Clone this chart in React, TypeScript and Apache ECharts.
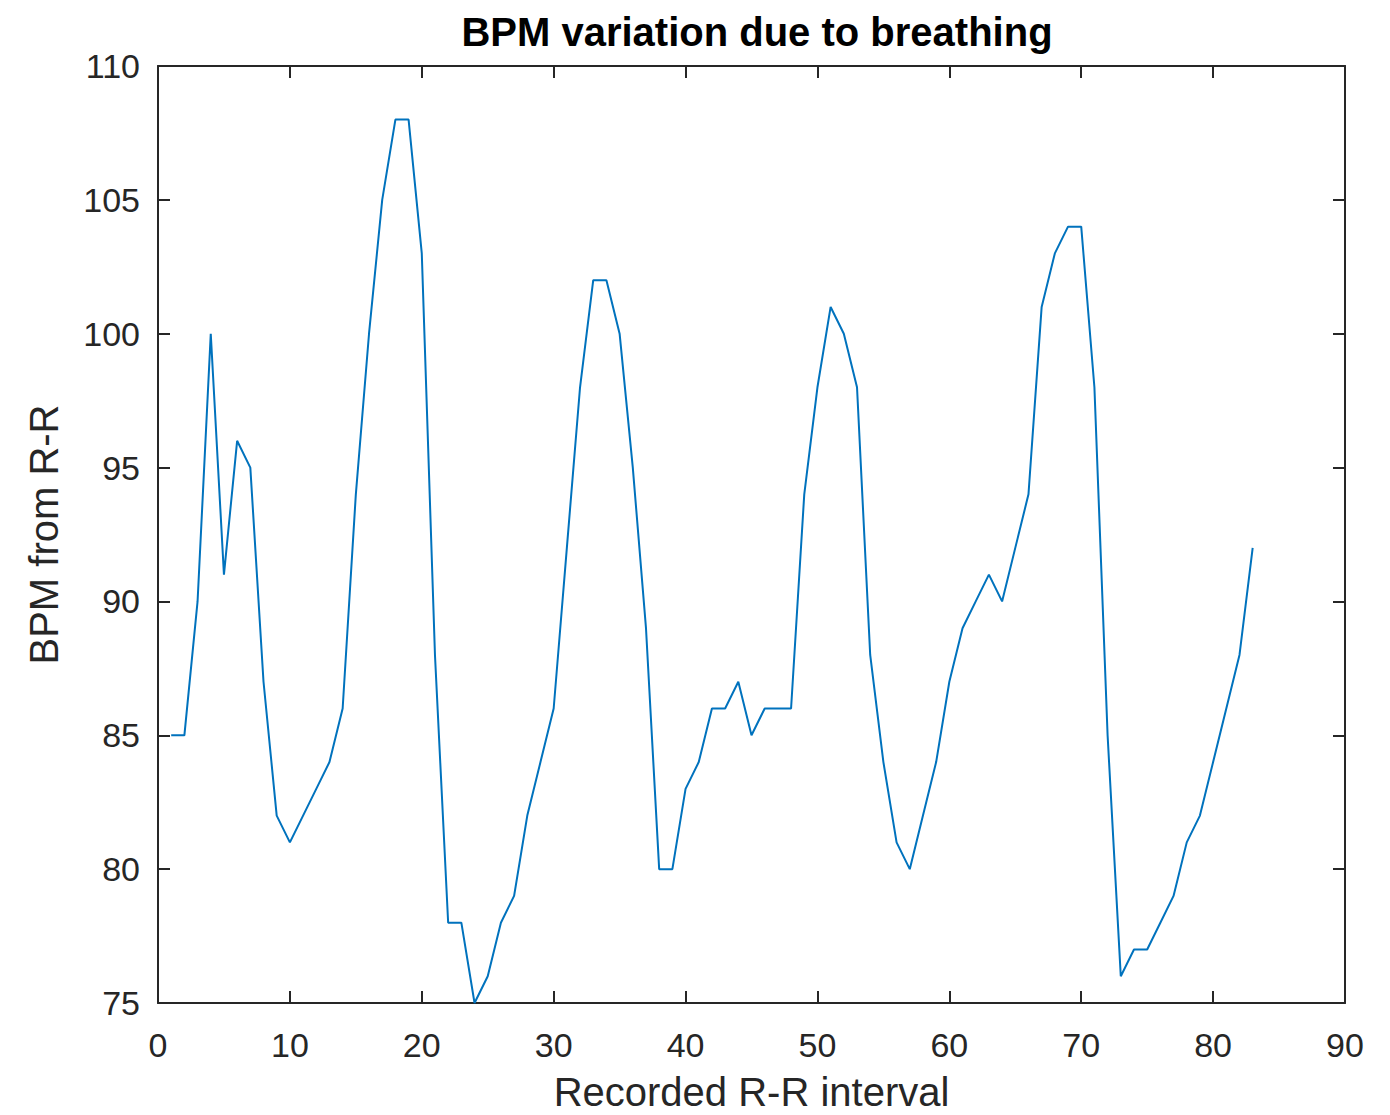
import React, { useEffect, useRef } from "react";
import * as echarts from "echarts";

const intervals: number[] = Array.from({ length: 83 }, (_, i) => i + 1);
const bpm: number[] = [
  85, 85, 90, 100, 91, 96, 95, 87, 82, 81,
  82, 83, 84, 86, 94, 100, 105, 108, 108, 103,
  88, 78, 78, 75, 76, 78, 79, 82, 84, 86,
  92, 98, 102, 102, 100, 95, 89, 80, 80, 83,
  84, 86, 86, 87, 85, 86, 86, 86, 94, 98,
  101, 100, 98, 88, 84, 81, 80, 82, 84, 87,
  89, 90, 91, 90, 92, 94, 101, 103, 104, 104,
  98, 85, 76, 77, 77, 78, 79, 81, 82, 84,
  86, 88, 92,
];
const xTicks = { min: 0, max: 90, interval: 10 };
const yTicks = { min: 75, max: 110, interval: 5 };

const FONT = "'Liberation Sans', Arial, Helvetica, sans-serif";
const AX = "#262626";

export default function App() {
  const ref = useRef<HTMLDivElement>(null);
  useEffect(() => {
    if (!ref.current) return;
    const chart = echarts.init(ref.current, null, { renderer: "svg" });
    const data = intervals.map((x, i) => [x, bpm[i]]);
    const axisCommon = {
      axisLine: { show: true, onZero: false, lineStyle: { color: AX, width: 2 } },
      axisTick: { show: true, inside: true, length: 12, lineStyle: { color: AX, width: 2 } },
      splitLine: { show: false },
    };
    chart.setOption({
      animation: false,
      backgroundColor: "#ffffff",
      title: {
        text: "BPM variation due to breathing",
        left: 752,
        top: 7,
        textAlign: "center",
        textStyle: { fontFamily: FONT, fontSize: 40, fontWeight: "bold", color: "#000000" },
      },
      grid: {
        left: 158,
        right: 45,
        top: 66,
        bottom: 112,
        containLabel: false,
        outerBoundsMode: "none",
      },
      xAxis: [
        {
          type: "value",
          ...xTicks,
          position: "bottom",
          ...axisCommon,
          axisLabel: { show: true, margin: 25, fontFamily: FONT, fontSize: 34, color: AX },
          name: "Recorded R-R interval",
          nameLocation: "middle",
          nameGap: 69,
          nameTextStyle: { fontFamily: FONT, fontSize: 40, lineHeight: 40, color: AX },
        },
        {
          type: "value",
          ...xTicks,
          position: "top",
          ...axisCommon,
          axisLabel: { show: false },
        },
      ],
      yAxis: [
        {
          type: "value",
          ...yTicks,
          position: "left",
          ...axisCommon,
          axisLabel: { show: true, margin: 18, fontFamily: FONT, fontSize: 34, color: AX },
          name: "BPM from R-R",
          nameLocation: "middle",
          nameGap: 94,
          nameTextStyle: { fontFamily: FONT, fontSize: 40, color: AX },
        },
        {
          type: "value",
          ...yTicks,
          position: "right",
          ...axisCommon,
          axisLabel: { show: false },
        },
      ],
      series: [
        {
          type: "line",
          data,
          xAxisIndex: 0,
          yAxisIndex: 0,
          showSymbol: false,
          symbol: "none",
          lineStyle: { color: "#0072BD", width: 2 },
        },
      ],
    });
    return () => chart.dispose();
  }, []);
  return (
    <div
      ref={ref}
      style={{ position: "fixed", left: 0, top: 0, width: 1390, height: 1115, background: "#fff" }}
    />
  );
}
